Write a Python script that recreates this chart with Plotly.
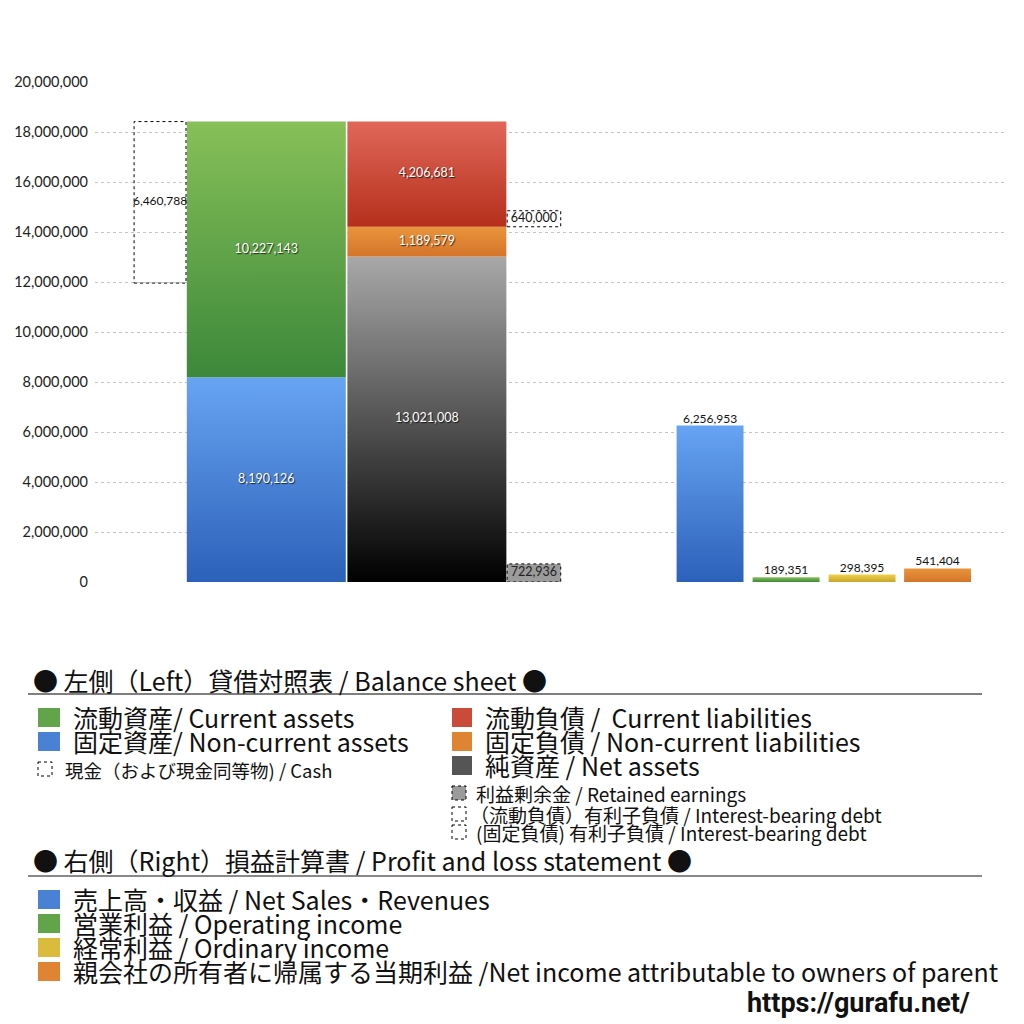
import plotly.graph_objects as go

# 貸借対照表 (balance sheet)
assets_names = ["固定資産", "流動資産"]
assets_values = [8190126, 10227143]
liab_names = ["純資産", "固定負債", "流動負債"]
liab_values = [13021008, 1189579, 4206681]
cash_value = 6460788
retained_value = 722936
debt_current_value = 640000

# 損益計算書 (P&L)
pl_names = ["売上高・収益", "営業利益", "経常利益", "親会社株主に帰属する当期純利益"]
pl_values = [6256953, 189351, 298395, 541404]

y_ticks = [0, 2000000, 4000000, 6000000, 8000000, 10000000,
           12000000, 14000000, 16000000, 18000000, 20000000]

# colours (bottom, top) for the vertical gradients
c_blue = ("#2c61b9", "#67a4f2")
c_green = ("#3c883a", "#87c058")
c_red = ("#b5301b", "#e0675a")
c_orange = ("#d4742a", "#e9953c")
c_gray = ("#000000", "#a8a8a8")
c_yellow = ("#c6a52c", "#f0d24a")

W, H = 1024, 1024
OFF = 8  # page body margin


def px(x):
    return (x - OFF) / W


def py(y):
    return 1 - (y - OFF) / H


def rect_trace(xc, w, base, value, colors=None, dotted=False, fill=None):
    x0, x1 = xc - w / 2, xc + w / 2
    y0, y1 = base, base + value
    xs = [x0, x1, x1, x0, x0]
    ys = [y0, y0, y1, y1, y0]
    if dotted:
        return go.Scatter(x=xs, y=ys, mode="lines", hoverinfo="skip",
                          line=dict(color="black", width=1, dash="dot"),
                          fill="toself" if fill else "none",
                          fillcolor=fill if fill else "rgba(0,0,0,0)")
    return go.Scatter(x=xs, y=ys, mode="lines", hoverinfo="skip",
                      line=dict(width=0), fill="toself",
                      fillgradient=dict(type="vertical", start=y0, stop=y1,
                                        colorscale=[[0, colors[0]], [1, colors[1]]]))


fig = go.Figure()

shadow_font = dict(family="Lato, Noto Sans", size=12.5, color="white",
                   shadow="1px 1px 1px rgba(0,0,0,0.7)")
plain_font = dict(family="Lato, Noto Sans", size=12.5, color="#111")

# 資産 (assets) column
x_assets, w_big = 3.2, 2.97
base = 0
for v, c in zip(assets_values, [c_blue, c_green]):
    fig.add_trace(rect_trace(x_assets, w_big, base, v, colors=c))
    fig.add_trace(go.Scatter(x=[x_assets], y=[base + v / 2], mode="text",
                             text=[f"{v:,}"], textfont=shadow_font, hoverinfo="skip"))
    base += v
total_assets = base

# 負債・純資産 column
x_liab = 6.2
base = 0
liab_tops = []
for v, c in zip(liab_values, [c_gray, c_orange, c_red]):
    fig.add_trace(rect_trace(x_liab, w_big, base, v, colors=c))
    fig.add_trace(go.Scatter(x=[x_liab], y=[base + v / 2], mode="text",
                             text=[f"{v:,}"], textfont=shadow_font, hoverinfo="skip"))
    liab_tops.append(base)
    base += v

# 現金 (cash) dotted box hanging from top of assets
x_cash, w_small = 1.215, 0.97
fig.add_trace(rect_trace(x_cash, w_small, total_assets - cash_value, cash_value, dotted=True))
fig.add_trace(go.Scatter(x=[x_cash], y=[total_assets - cash_value / 2], mode="text",
                         text=[f"{cash_value:,}"], textfont=dict(plain_font, size=12),
                         hoverinfo="skip"))

# 利益剰余金 and 有利子負債 boxes
x_side = 8.2
fig.add_trace(rect_trace(x_side, 1.0, 0, retained_value, dotted=True, fill="#9b9b9b"))
fig.add_trace(go.Scatter(x=[x_side], y=[retained_value / 2], mode="text",
                         text=[f"{retained_value:,}"], textfont=dict(plain_font, color="#222"),
                         hoverinfo="skip"))
debt_base = liab_tops[2]
fig.add_trace(rect_trace(x_side, 1.0, debt_base, debt_current_value, dotted=True))
fig.add_trace(go.Scatter(x=[x_side], y=[debt_base + debt_current_value / 2], mode="text",
                         text=[f"{debt_current_value:,}"], textfont=plain_font,
                         hoverinfo="skip"))

# P&L bars
pl_x = [11.49, 12.91, 14.33, 15.74]
pl_colors = [c_blue, c_green, c_yellow, c_orange]
for xc, v, c in zip(pl_x, pl_values, pl_colors):
    fig.add_trace(rect_trace(xc, 1.25, 0, v, colors=c))
    fig.add_trace(go.Scatter(x=[xc], y=[v], mode="text", text=[f"{v:,}"],
                             textposition="top center", textfont=dict(plain_font, size=12),
                             hoverinfo="skip"))

fig.update_layout(
    width=W, height=H,
    margin=dict(l=0, r=0, t=0, b=0, pad=0, autoexpand=False),
    plot_bgcolor="white", paper_bgcolor="white",
    showlegend=False,
    font=dict(family="Noto Sans CJK JP", color="#111"),
    xaxis=dict(domain=[px(95), px(1005)], range=[0, 17], visible=False, fixedrange=True),
    yaxis=dict(domain=[py(582), py(82)], range=[0, 20000000], tickvals=y_ticks,
               tickformat=",d", showgrid=True, gridcolor="#c4c4c4", griddash="dot",
               gridwidth=1, zeroline=False, showline=False, ticks="",
               ticklabelstandoff=6, automargin=False,
               tickfont=dict(family="Lato, Noto Sans", size=14.5, color="#222")),
)

# ----- 凡例 (custom legend) -----
shapes = []
annots = []


def label(x, y, text, size=25, **kw):
    annots.append(dict(x=px(x), y=py(y), xref="paper", yref="paper", text=text,
                       showarrow=False, xanchor="left", yanchor="middle",
                       font=dict(family="Noto Sans CJK JP", size=size, color="#111"), **kw))


def square(x0, y0, w, h, color, dotted=False):
    if dotted:
        shapes.append(dict(type="rect", xref="paper", yref="paper",
                           x0=px(x0), x1=px(x0 + w), y0=py(y0), y1=py(y0 + h),
                           line=dict(color="black", width=1, dash="dot"),
                           fillcolor=color if color else "rgba(0,0,0,0)"))
    else:
        shapes.append(dict(type="rect", xref="paper", yref="paper",
                           x0=px(x0), x1=px(x0 + w), y0=py(y0), y1=py(y0 + h),
                           line=dict(width=0), fillcolor=color))


def mid(c):
    a = [int(c[0][i:i + 2], 16) for i in (1, 3, 5)]
    b = [int(c[1][i:i + 2], 16) for i in (1, 3, 5)]
    return "rgb(%d,%d,%d)" % tuple((p + q) // 2 for p, q in zip(a, b))


label(31, 680, "● 左側（Left）貸借対照表 / Balance sheet ●", size=25)
shapes.append(dict(type="line", xref="paper", yref="paper", x0=px(28), x1=px(982),
                   y0=py(694), y1=py(694), line=dict(color="black", width=1.2)))

square(38, 708, 22, 19, mid(c_green))
label(71, 717, "流動資産/ Current assets")
square(38, 732, 22, 19, mid(c_blue))
label(71, 741, "固定資産/ Non-current assets")
square(38, 762, 14, 14, None, dotted=True)
label(63, 770, "現金（および現金同等物) / Cash", size=18.5)

square(452, 708, 20, 19, mid(c_red))
label(483, 717, "流動負債 /  Current liabilities")
square(452, 732, 20, 19, mid(c_orange))
label(483, 741, "固定負債 / Non-current liabilities")
square(452, 756, 20, 19, "#555555")
label(483, 765, "純資産 / Net assets")
square(452, 786, 14, 14, "#9b9b9b", dotted=True)
label(474, 793, "利益剰余金 / Retained earnings", size=19)
square(452, 807, 14, 14, None, dotted=True)
label(468, 814, "（流動負債）有利子負債 / Interest-bearing debt", size=19)
square(452, 825, 14, 14, None, dotted=True)
label(474, 832, "(固定負債) 有利子負債 / Interest-bearing debt", size=19)

label(31, 860, "● 右側（Right）損益計算書 / Profit and loss statement ●", size=25)
shapes.append(dict(type="line", xref="paper", yref="paper", x0=px(28), x1=px(982),
                   y0=py(876), y1=py(876), line=dict(color="#888888", width=2)))

pl_legend = ["売上高・収益 / Net Sales・Revenues",
             "営業利益 / Operating income",
             "経常利益 / Ordinary income",
             "親会社の所有者に帰属する当期利益 /Net income attributable to owners of parent"]
for i, (t, c) in enumerate(zip(pl_legend, pl_colors)):
    yc = 899 + 24 * i
    square(38, yc - 9, 22, 19, mid(c))
    label(71, yc, t)

annots.append(dict(x=px(972), y=py(1003), xref="paper", yref="paper",
                   text="<b>https://gurafu.net/</b>", showarrow=False,
                   xanchor="right", yanchor="middle",
                   font=dict(family="Roboto", size=27, color="#111")))

fig.update_layout(shapes=shapes, annotations=annots)

fig.write_html("out.html")
